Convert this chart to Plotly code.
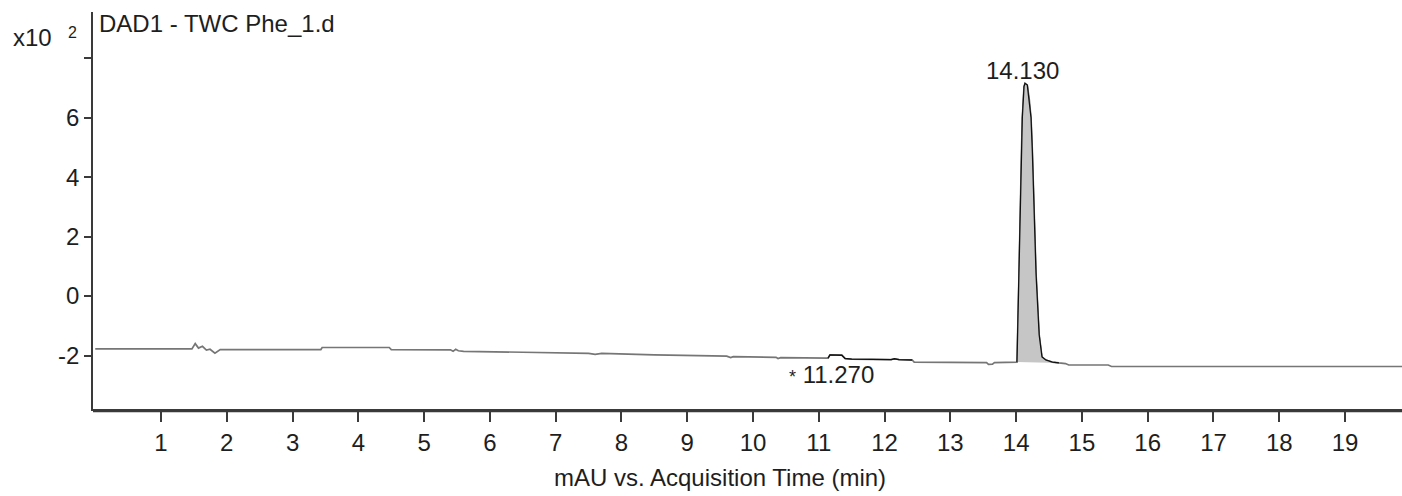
import plotly.graph_objects as go

# ---- data (signal in units of x10^2 mAU) ----
time_min = [0.0, 1.45, 1.47, 1.52, 1.57, 1.63, 1.69, 1.745, 1.82, 1.9, 3.43, 3.45, 4.47, 4.5,
            5.4, 5.44, 5.48, 5.52, 5.6, 6.5, 7.5, 7.6, 7.7, 8.5, 9.6, 9.66, 9.7, 10.35, 10.38,
            10.42, 11.1, 11.14, 11.17, 11.35, 11.4, 11.5, 12.1, 12.15, 12.22, 12.42, 12.45,
            13.55, 13.58, 13.64, 13.67, 14.0, 14.013, 14.044, 14.059, 14.082, 14.094, 14.12,
            14.135, 14.17, 14.2, 14.226, 14.246, 14.272, 14.302, 14.35, 14.393, 14.45, 14.55,
            14.65, 14.75, 14.8, 15.4, 15.45, 19.9]
signal = [-1.78, -1.78, -1.78, -1.60, -1.75, -1.69, -1.82, -1.79, -1.92, -1.80, -1.80, -1.73,
          -1.73, -1.80, -1.81, -1.86, -1.79, -1.84, -1.86, -1.89, -1.93, -1.96, -1.93, -1.98,
          -2.02, -2.07, -2.04, -2.06, -2.10, -2.07, -2.09, -2.09, -1.98, -1.99, -2.10, -2.12,
          -2.14, -2.11, -2.14, -2.15, -2.22, -2.24, -2.30, -2.29, -2.24, -2.23, -2.22, 0.77,
          3.0, 4.9, 6.0, 7.05, 7.16, 7.1, 6.6, 6.0, 4.9, 3.0, 0.77, -1.3, -2.05, -2.15, -2.22,
          -2.25, -2.27, -2.32, -2.32, -2.37, -2.37]

# integrated windows (start, end in min) and labels
minor_window = (11.14, 12.43)
main_window = (14.013, 14.65)
peak_labels = ["14.130", "11.270"]
peak_label_times = [14.13, 11.27]

x_ticks = list(range(1, 20))
y_ticks = [-2, 0, 2, 4, 6, 8]
y_tick_text = ["-2", "0", "2", "4", "6", ""]

FONT = "Liberation Sans, Arial, sans-serif"
FS = 24
TXT = "#1e1e1e"
AX = "#3a3a3a"


def window(t0, t1):
    xs, ys = [], []
    for t, s in zip(time_min, signal):
        if t0 <= t <= t1:
            xs.append(t)
            ys.append(s)
    return xs, ys


fig = go.Figure()
fig.add_trace(go.Scatter(x=time_min, y=signal, mode="lines",
                         line=dict(color="#767676", width=1.7), hoverinfo="skip"))

mx, my = window(*minor_window)
fig.add_trace(go.Scatter(x=mx, y=my, mode="lines",
                         line=dict(color="#111111", width=1.4), hoverinfo="skip"))

px_, py_ = window(*main_window)
fig.add_trace(go.Scatter(x=px_, y=py_, mode="lines", fill="toself",
                         fillcolor="#c6c6c6",
                         line=dict(color="#111111", width=1.3), hoverinfo="skip"))

apex = max(signal)
apex_t = time_min[signal.index(apex)]
fig.add_annotation(x=apex_t, y=apex, text=peak_labels[0], showarrow=False,
                   yanchor="bottom", xanchor="center", yshift=-3, xshift=-3,
                   font=dict(size=FS, color=TXT, family=FONT))
fig.add_annotation(x=peak_label_times[1], y=-2.30, text="<span style='font-size:18px'>*</span> " + peak_labels[1],
                   showarrow=False, yanchor="top", xanchor="center", xshift=-5, yshift=5,
                   font=dict(size=FS, color=TXT, family=FONT))

# title and scale label
fig.add_annotation(xref="paper", yref="paper", x=0, y=1, xshift=4, yshift=4,
                   text="DAD1 - TWC Phe_1.d", showarrow=False, xanchor="left", yanchor="top",
                   font=dict(size=FS, color=TXT, family=FONT))
fig.add_annotation(xref="paper", yref="paper", x=0, y=1, xshift=-82, yshift=-10,
                   text="x10", showarrow=False, xanchor="left", yanchor="top",
                   font=dict(size=FS, color=TXT, family=FONT))
fig.add_annotation(xref="paper", yref="paper", x=0, y=1, xshift=-27, yshift=-10,
                   text="2", showarrow=False, xanchor="left", yanchor="top",
                   font=dict(size=16, color=TXT, family=FONT))

# x-axis title (slightly left of plot centre, as in the original)
fig.add_annotation(xref="paper", yref="paper", x=0.479, y=0, yshift=-53,
                   text="mAU vs. Acquisition Time (min)", showarrow=False,
                   xanchor="center", yanchor="top",
                   font=dict(size=FS, color=TXT, family=FONT))

# second (double) line under x axis
fig.add_shape(type="line", xref="paper", yref="paper", x0=0, x1=1, y0=-0.0065, y1=-0.0065,
              line=dict(color=AX, width=1.5))

fig.update_layout(
    width=1402, height=496,
    margin=dict(l=93, r=0, t=12, b=87),
    paper_bgcolor="white", plot_bgcolor="white",
    showlegend=False,
    font=dict(family=FONT, size=FS, color=TXT),
    xaxis=dict(range=[-0.034, 19.866], tickvals=x_ticks, ticks="outside", ticklen=11,
               tickcolor=AX, tickwidth=1.5, showline=True, linecolor=AX, linewidth=1.5,
               showgrid=False, zeroline=False, mirror=False,
               tickfont=dict(size=FS, color=TXT, family=FONT)),
    yaxis=dict(range=[-3.80, 9.56], tickvals=y_ticks, ticktext=y_tick_text, ticks="outside",
               ticklen=7, tickcolor=AX, tickwidth=1.5, showline=True, linecolor=AX, linewidth=1.5,
               showgrid=False, zeroline=False,
               tickfont=dict(size=FS, color=TXT, family=FONT)),
)

fig.write_html("out.html", config={"displayModeBar": False},
               post_script="document.body.style.margin='0';document.body.style.overflow='hidden';")
